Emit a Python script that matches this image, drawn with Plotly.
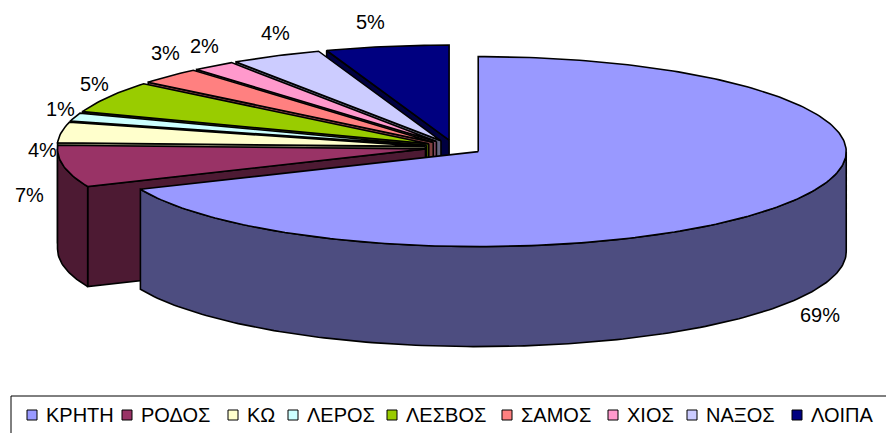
import math
import plotly.graph_objects as go

categories = ["ΚΡΗΤΗ", "ΡΟΔΟΣ", "ΚΩ", "ΛΕΡΟΣ", "ΛΕΣΒΟΣ", "ΣΑΜΟΣ", "ΧΙΟΣ", "ΝΑΞΟΣ", "ΛΟΙΠΑ"]
values = [68.51, 7.09, 3.5, 1.4, 5.4, 2.8, 1.9, 4.0, 5.4]
top_colors = ["#9999FF", "#993366", "#FFFFCC", "#CCFFFF", "#99CC00", "#FF8080", "#FF99CC", "#CCCCFF", "#000080"]
wall_colors = ["#4D4D80", "#4D1A33", "#808066", "#668080", "#4D6600", "#804040", "#804D66", "#666680", "#000040"]
label_nudges = [(34, 11), (-34, -71), (-19, 18), (-14, -8), (-14, -13), (-4, -23), (-9, -20), (0, -23), (-16, -24)]
legend_swatch_x = [32, 127, 233, 293, 392, 507, 613, 692, 797]

CX, CY, RX, RY, EX, EY, H = 454.0, 147.5, 368.0, 95.0, 29.0, 7.5, 100.0
LEGEND_Y = 415


def pt(c, deg, r=1.0):
    t = math.radians(deg)
    return c[0] + RX * r * math.sin(t), c[1] - RY * r * math.cos(t)


def arc(c, a, b):
    n = max(2, int(abs(b - a)) + 2)
    return [pt(c, a + (b - a) * i / (n - 1)) for i in range(n)]


fig = go.Figure()
total = sum(values)
spans = []
acc = 0.0
for v in values:
    spans.append((acc * 360 / total, (acc + v) * 360 / total))
    acc += v


def poly(points, fill, **kw):
    xs = [p[0] for p in points] + [points[0][0]]
    ys = [p[1] for p in points] + [points[0][1]]
    fig.add_trace(go.Scatter(x=xs, y=ys, mode="lines", fill="toself", fillcolor=fill,
                             line=dict(color="black", width=1.6), hoverinfo="skip", showlegend=False, **kw))


annots = []
for i in reversed(range(len(values))):
    a, b = spans[i]
    mid = (a + b) / 2
    t = math.radians(mid)
    c = (CX + EX * math.sin(t), CY - EY * math.cos(t))
    wall = wall_colors[i]
    # radial faces that turn toward the viewer
    for ang, normal in ((a, a - 90), (b, b + 90)):
        if -math.cos(math.radians(normal)) > 1e-6:
            p = pt(c, ang)
            poly([c, p, (p[0], p[1] + H), (c[0], c[1] + H)], wall)
    # rim
    lo, hi = max(a, 90), min(b, 270)
    if hi > lo:
        rim = arc(c, lo, hi)
        poly(rim + [(x, y + H) for x, y in reversed(rim)], wall)
    # top
    poly([c] + arc(c, a, b), top_colors[i], name=categories[i])
    lx, ly = pt(c, mid, 1.0)
    if 90 < mid < 270:
        ly += H
    annots.append(dict(x=lx, y=ly, text=f"{values[i]:.0f}%", showarrow=False, xanchor="center", yanchor="middle",
                       xshift=label_nudges[i][0], yshift=-label_nudges[i][1],
                       font=dict(family="Liberation Sans", size=20, color="black")))

# legend row
fig.add_trace(go.Scatter(x=legend_swatch_x, y=[LEGEND_Y] * len(categories), mode="markers", showlegend=False,
                         hoverinfo="skip",
                         marker=dict(symbol="square", size=10, color=top_colors, line=dict(color="black", width=1))))
for name, x in zip(categories, legend_swatch_x):
    annots.append(dict(x=x, y=LEGEND_Y, text=name, showarrow=False, xanchor="left", yanchor="middle", xshift=12,
                       font=dict(family="Liberation Sans", size=20, color="black")))

fig.update_layout(
    width=886, height=433, autosize=False,
    margin=dict(l=0, r=0, t=0, b=0),
    paper_bgcolor="white", plot_bgcolor="white",
    xaxis=dict(range=[0, 886], visible=False, fixedrange=True),
    yaxis=dict(range=[433, 0], visible=False, fixedrange=True),
    annotations=annots,
    shapes=[dict(type="rect", x0=11, y0=396, x1=892, y1=440, line=dict(color="black", width=1), fillcolor="white", layer="below")],
    showlegend=False,
)
fig.write_html("out.html", config={"displayModeBar": False},
               post_script="document.body.style.margin='0';document.documentElement.style.overflow='hidden';")
